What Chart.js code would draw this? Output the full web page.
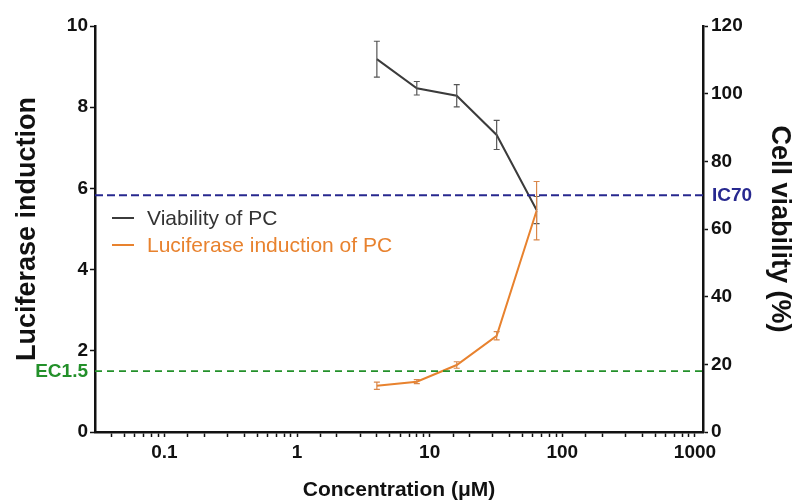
<!DOCTYPE html>
<html lang="en">
<head>
    <meta charset="UTF-8">
    <title>Viability and luciferase induction of PC</title>
    <script src="https://cdn.jsdelivr.net/npm/chart.js"></script>
    <style>
        html, body { margin: 0; padding: 0; background: #fff; }
        #wrap { width: 800px; height: 502px; }
    </style>
</head>
<body>
    <div id="wrap"><canvas id="doseChart" width="800" height="502"></canvas></div>

    <script>
        // values
        const concentrations = [4, 8, 16, 32, 64];            // µM
        const viability = [110.2, 101.6, 99.4, 87.8, 65.6];   // %
        const viabilityErr = [5.3, 2.0, 3.3, 4.3, 4.0];
        const luciferase = [1.14, 1.24, 1.65, 2.37, 5.45];    // fold induction
        const luciferaseErr = [0.09, 0.05, 0.08, 0.10, 0.72];

        const xRange = [0.03, 1150];
        const ic70 = 70;     // on cell viability axis
        const ec15 = 1.5;    // on luciferase axis

        const FONT = "'Liberation Sans', Arial, sans-serif";
        const greyLine = '#3b3b3b';
        const orange = '#e8822e';
        const navy = '#27288f';
        const green = '#23902a';

        const toPoints = (xs, ys) => xs.map((x, i) => ({ x: x, y: ys[i] }));

        // error bars, drawn through the chart's own scales
        const errorBars = {
            id: 'errorBars',
            afterDatasetsDraw(chart) {
                const ctx = chart.ctx;
                const xs = chart.scales.x;
                chart.data.datasets.forEach(ds => {
                    if (!ds.errors) return;
                    const ys = chart.scales[ds.yAxisID];
                    ctx.save();
                    ctx.strokeStyle = ds.errorColor;
                    ctx.lineWidth = 1.2;
                    ds.data.forEach((p, i) => {
                        const px = xs.getPixelForValue(p.x);
                        const top = ys.getPixelForValue(p.y + ds.errors[i]);
                        const bot = ys.getPixelForValue(p.y - ds.errors[i]);
                        ctx.beginPath();
                        ctx.moveTo(px, top); ctx.lineTo(px, bot);
                        ctx.moveTo(px - 3, top); ctx.lineTo(px + 3, top);
                        ctx.moveTo(px - 3, bot); ctx.lineTo(px + 3, bot);
                        ctx.stroke();
                    });
                    ctx.restore();
                });
            }
        };

        // legend inside the plot + threshold labels
        const annotations = {
            id: 'annotations',
            afterDraw(chart) {
                const ctx = chart.ctx;
                const area = chart.chartArea;
                ctx.save();
                const items = [
                    { text: 'Viability of PC', color: greyLine, textColor: '#333', y: 218 },
                    { text: 'Luciferase induction of PC', color: orange, textColor: orange, y: 245 }
                ];
                ctx.font = '21px ' + FONT;
                ctx.textBaseline = 'middle';
                items.forEach(it => {
                    ctx.strokeStyle = it.color;
                    ctx.lineWidth = 2;
                    ctx.beginPath();
                    ctx.moveTo(area.left + 17, it.y);
                    ctx.lineTo(area.left + 39, it.y);
                    ctx.stroke();
                    ctx.fillStyle = it.textColor;
                    ctx.textAlign = 'left';
                    ctx.fillText(it.text, area.left + 52, it.y + 1);
                });
                ctx.font = 'bold 19px ' + FONT;
                ctx.fillStyle = navy;
                ctx.textAlign = 'left';
                ctx.fillText('IC70', area.right + 9, chart.scales.y2.getPixelForValue(ic70) + 1);
                ctx.fillStyle = green;
                ctx.textAlign = 'right';
                ctx.fillText('EC1.5', area.left - 7, chart.scales.y.getPixelForValue(ec15) + 1);
                ctx.restore();
            }
        };

        const isDecade = v => Math.abs(Math.log10(v) - Math.round(Math.log10(v))) < 1e-6;
        const tickFont = { family: FONT, size: 19, weight: 'bold' };

        const chart = new Chart(document.getElementById('doseChart').getContext('2d'), {
            type: 'line',
            data: {
                datasets: [
                    {
                        label: 'IC70',
                        data: toPoints(xRange, [ic70, ic70]),
                        yAxisID: 'y2',
                        borderColor: navy,
                        borderWidth: 2,
                        borderDash: [8, 4],
                        pointRadius: 0
                    },
                    {
                        label: 'EC1.5',
                        data: toPoints(xRange, [ec15, ec15]),
                        yAxisID: 'y',
                        borderColor: green,
                        borderWidth: 1.8,
                        borderDash: [7, 5],
                        pointRadius: 0
                    },
                    {
                        label: 'Viability of PC',
                        data: toPoints(concentrations, viability),
                        errors: viabilityErr,
                        errorColor: '#555',
                        yAxisID: 'y2',
                        borderColor: greyLine,
                        borderWidth: 2,
                        pointRadius: 0,
                        tension: 0
                    },
                    {
                        label: 'Luciferase induction of PC',
                        data: toPoints(concentrations, luciferase),
                        errors: luciferaseErr,
                        errorColor: '#d9874a',
                        yAxisID: 'y',
                        borderColor: orange,
                        borderWidth: 2,
                        pointRadius: 0,
                        tension: 0
                    }
                ]
            },
            options: {
                responsive: false,
                animation: false,
                layout: { padding: { top: 26 } },
                plugins: {
                    legend: { display: false },
                    tooltip: { enabled: false }
                },
                scales: {
                    x: {
                        type: 'logarithmic',
                        min: xRange[0],
                        max: xRange[1],
                        border: { color: '#111', width: 2.5 },
                        grid: {
                            drawOnChartArea: false,
                            tickLength: 5,
                            tickWidth: 1.5,
                            tickColor: ctx => (ctx.tick && (ctx.tick.value <= xRange[0] || ctx.tick.value >= xRange[1])) ? 'rgba(0,0,0,0)' : '#111'
                        },
                        ticks: {
                            autoSkip: false,
                            maxRotation: 0,
                            color: '#111',
                            padding: 4,
                            font: tickFont,
                            callback: v => isDecade(v) ? String(Number(v.toPrecision(3))) : ''
                        },
                        title: {
                            display: true,
                            text: 'Concentration (\u03bcM)',
                            color: '#111',
                            font: { family: FONT, size: 21, weight: 'bold', lineHeight: 0.75 }
                        },
                        afterFit: s => { s.height = 70; }
                    },
                    y: {
                        position: 'left',
                        min: 0,
                        max: 10,
                        border: { color: '#111', width: 2.5 },
                        grid: { drawOnChartArea: false, tickLength: 5, tickWidth: 1.5, tickColor: '#111' },
                        ticks: {
                            stepSize: 2,
                            color: '#111',
                            padding: 2,
                            font: tickFont
                        },
                        title: {
                            display: true,
                            text: 'Luciferase induction',
                            color: '#111',
                            font: { family: FONT, size: 27, weight: 'bold', lineHeight: 1.72 }
                        },
                        afterFit: s => { s.width = 95; }
                    },
                    y2: {
                        position: 'right',
                        min: 0,
                        max: 120,
                        border: { color: '#111', width: 2.5 },
                        grid: { drawOnChartArea: false, tickLength: 5, tickWidth: 1.5, tickColor: '#111' },
                        ticks: {
                            stepSize: 20,
                            color: '#111',
                            padding: 3,
                            font: tickFont
                        },
                        title: {
                            display: true,
                            text: 'Cell viability (%)',
                            color: '#111',
                            font: { family: FONT, size: 27, weight: 'bold', lineHeight: 1.25 }
                        },
                        afterFit: s => { s.width = 97; }
                    }
                }
            },
            plugins: [errorBars, annotations]
        });
    </script>
</body>
</html>
